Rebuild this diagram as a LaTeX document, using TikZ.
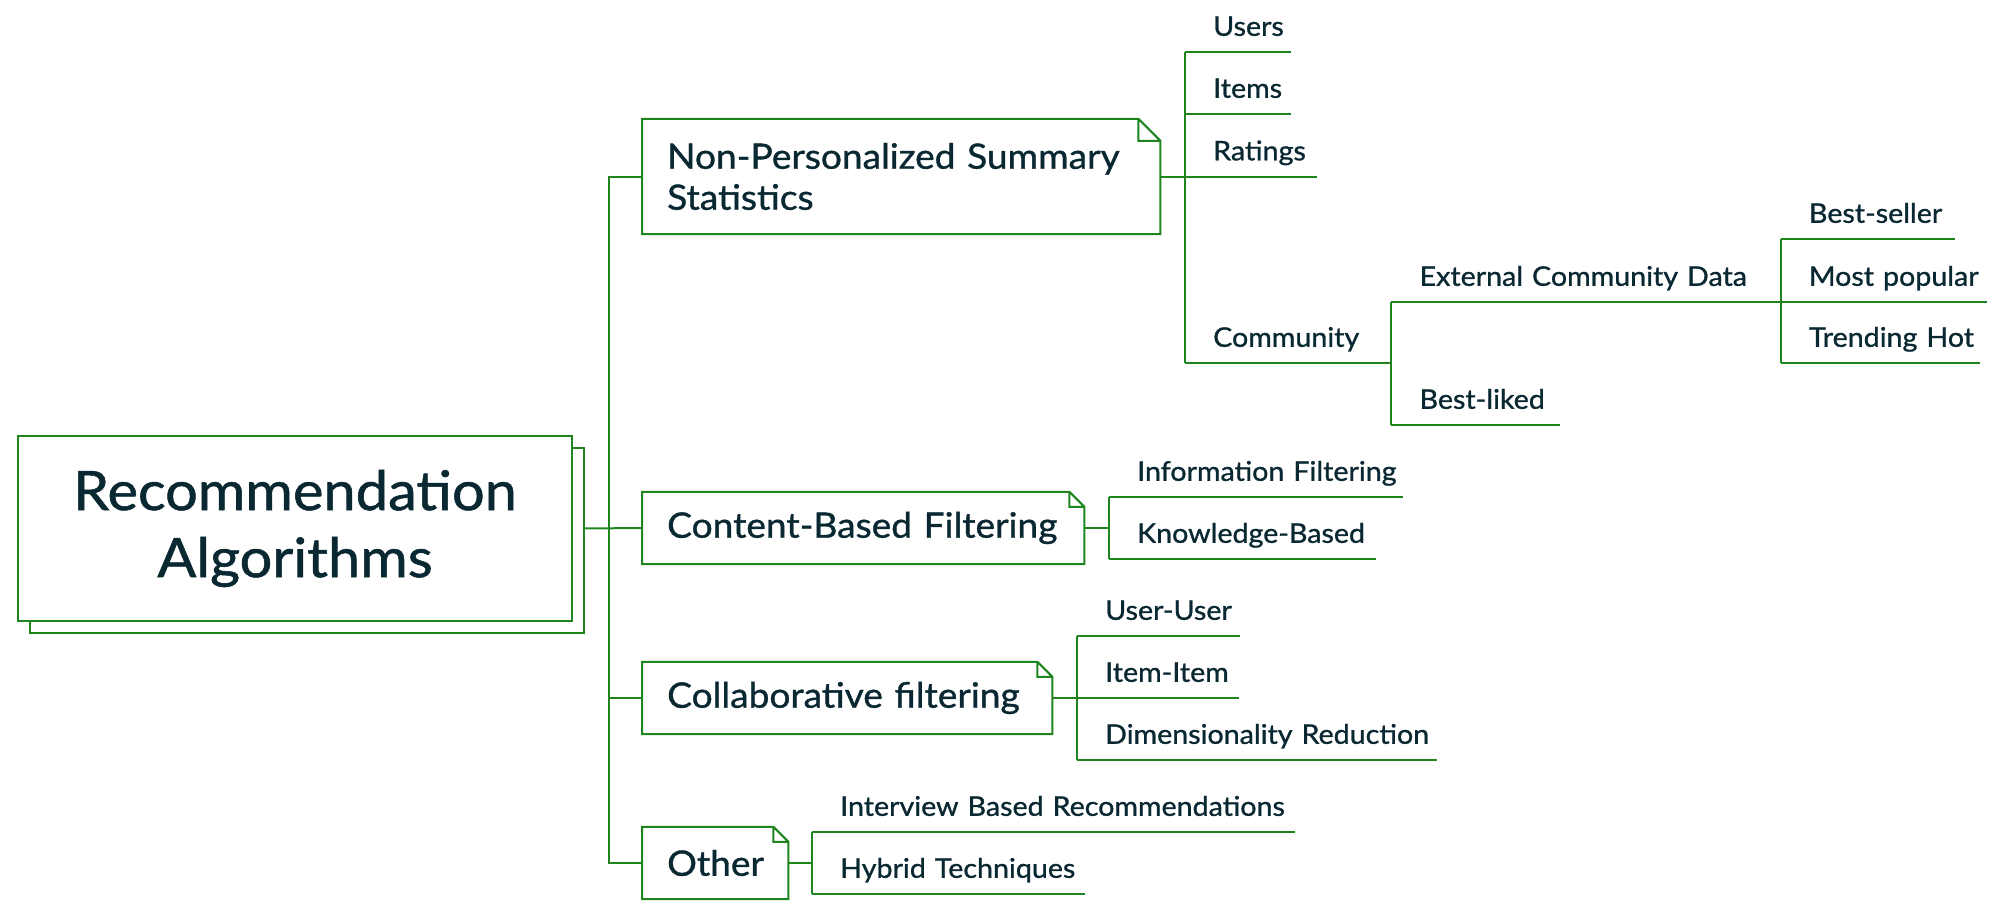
\documentclass[tikz,border=0pt]{standalone}
\usepackage{fontspec}
\setmainfont{Lato}[FakeBold=1.0, FakeStretch=1.06]
\usetikzlibrary{positioning,shadows}
\definecolor{mmgreen}{RGB}{30,132,30}
\definecolor{mmink}{RGB}{10,40,50}

\begin{document}
\begin{tikzpicture}[x=1pt, y=-1pt,
  link/.style={draw=mmgreen, line width=2pt},
  root/.style={draw=mmgreen, line width=2pt, fill=white, text=mmink,
    font=\fontsize{54.5}{67}\selectfont, align=center,
    minimum width=554pt, minimum height=185pt,
    copy shadow={shadow xshift=12pt, shadow yshift=-12pt}},
  branch/.style={anchor=west, text=mmink, font=\fontsize{35}{41}\selectfont,
    inner xsep=25pt, inner ysep=0pt, align=left, minimum height=72pt, text width=#1},
  leaf/.style={anchor=south west, text=mmink, font=\fontsize{27}{32}\selectfont,
    inner sep=0pt, align=left, text width=#1, text height=20pt, text depth=16pt,
    execute at begin node={\hspace*{28pt}}}]
\useasboundingbox (0,0) rectangle (2005,915);
% Root
\node[root] (root) at (295,528.5) {Recommendation\\Algorithms};
% Branches
\node[branch=468pt, minimum height=115pt] (npss) at (642,176.5) {Non-Personalized Summary\\Statistics};
\node[branch=392pt] (cbf) at (642,528) {Content-Based Filtering};
\node[branch=360pt] (cf) at (642,698) {Collaborative filtering};
\node[branch=96pt] (other) at (642,863) {Other};
\foreach \b/\f in {npss/22, cbf/15, cf/15, other/15}
  \draw[link] (\b.south west) -- (\b.north west) -- ([xshift=-\f pt]\b.north east)
    -- ([yshift=-\f pt]\b.north east) -- (\b.south east) -- cycle
    ([xshift=-\f pt]\b.north east) |- ([yshift=-\f pt]\b.north east);
% Trunk
\coordinate (trunk) at (609,528);
\draw[link] ([xshift=11pt]root.east) -- (cbf.west);
\draw[link] (npss.west) -| (trunk) |- (other.west);
\draw[link] (cf.west) -- (cf.west -| trunk);
% Non-personalized leaves
\node[leaf=106pt] (users) at (1185,52) {Users};
\node[leaf=106pt] (items) at (1185,114) {Items};
\node[leaf=132pt] (ratings) at (1185,176.5) {Ratings};
\node[leaf=206pt] (community) at (1185,363) {Community};
\node[leaf=389pt] (external) at (community.south east |- 0,302) {External Community Data};
\node[leaf=168pt] (liked) at (community.south east |- 0,425) {Best-liked};
\node[leaf=174pt] (seller) at (external.south east |- 0,239) {Best-seller};
\node[leaf=206pt] (popular) at (external.south east) {Most popular};
\node[leaf=199pt] (trending) at (external.south east |- 0,363) {Trending Hot};
\draw[link] (npss.east) -- (ratings.south west);
\draw[link] (users.south west) -- (community.south west);
\draw[link] (external.south west) -- (liked.south west);
\draw[link] (seller.south west) -- (trending.south west);
% Content-based leaves
\node[leaf=294pt] (info) at (1109,497) {Information Filtering};
\node[leaf=267pt] (know) at (1109,559) {Knowledge-Based};
\draw[link] (cbf.east) -- (cbf.east -| info.south west);
\draw[link] (info.south west) -- (know.south west);
% Collaborative leaves
\node[leaf=163pt] (useruser) at (1077,636) {User-User};
\node[leaf=162pt] (itemitem) at (1077,698) {Item-Item};
\node[leaf=360pt] (dimred) at (1077,760) {Dimensionality Reduction};
\draw[link] (cf.east) -- (itemitem.south west);
\draw[link] (useruser.south west) -- (dimred.south west);
% Other leaves
\node[leaf=483pt] (interview) at (812,832) {Interview Based Recommendations};
\node[leaf=273pt] (hybrid) at (812,894) {Hybrid Techniques};
\draw[link] (other.east) -- (other.east -| interview.south west);
\draw[link] (interview.south west) -- (hybrid.south west);
% Underlines
\foreach \l in {users, items, ratings, community, external, liked, seller, popular,
    trending, info, know, useruser, itemitem, dimred, interview, hybrid}
  \draw[link] (\l.south west) -- (\l.south east);
\end{tikzpicture}
\end{document}
